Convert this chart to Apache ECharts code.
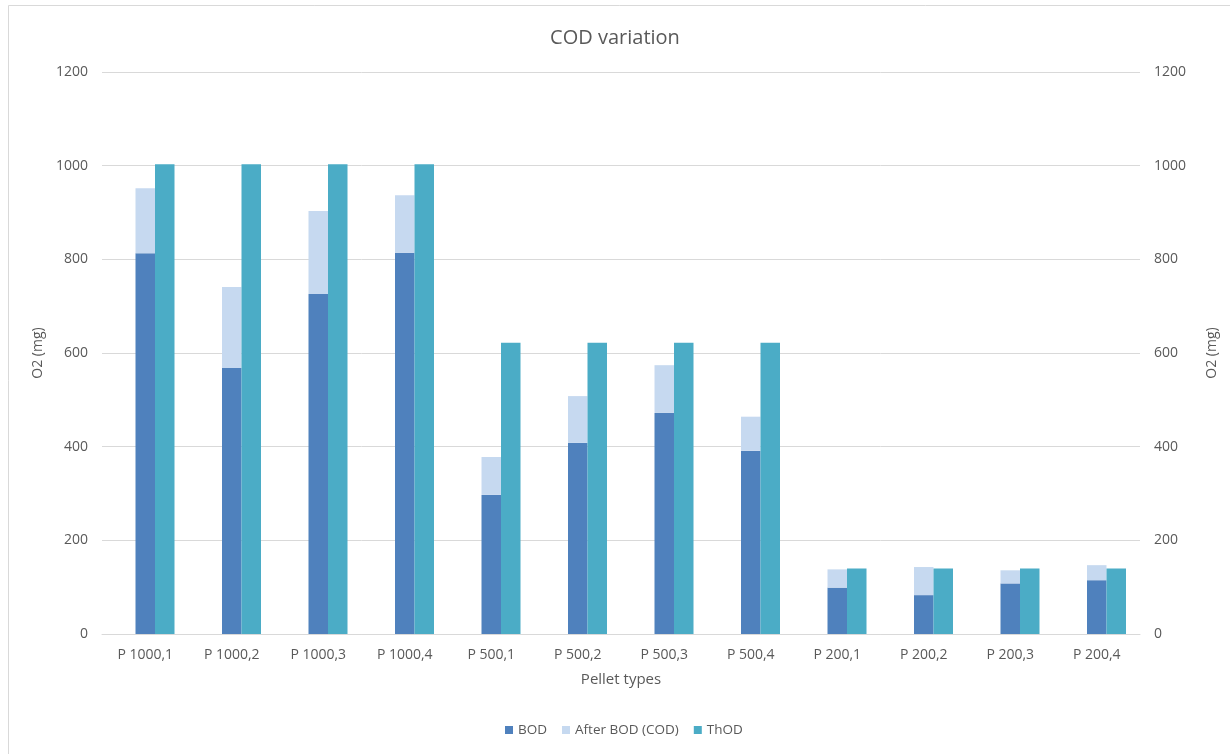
<!DOCTYPE html>
<html>
<head>
<meta charset="utf-8">
<title>COD variation</title>
<script src="https://cdn.jsdelivr.net/npm/echarts@6/dist/echarts.min.js"></script>
<style>
  html, body { margin: 0; padding: 0; background: #ffffff; }
  #chart { width: 1230px; height: 754px; }
</style>
</head>
<body>
<div id="chart"></div>
<script>
// Pellet samples along the category axis
const pelletTypes = ['P 1000,1', 'P 1000,2', 'P 1000,3', 'P 1000,4',
                     'P 500,1', 'P 500,2', 'P 500,3', 'P 500,4',
                     'P 200,1', 'P 200,2', 'P 200,3', 'P 200,4'];

// Oxygen demand in mg O2
const bodValues      = [813, 568, 726, 814, 297, 408, 472, 391, 99, 83, 108, 115];
const afterBodValues = [139, 173, 177, 123, 81, 100, 102, 73, 39, 60, 28, 32];
const thodValues     = [1003, 1003, 1003, 1003, 622, 622, 622, 622, 140, 140, 140, 140];

// Value axis ticks (same on both sides)
const axisMin = 0;
const axisMax = 1200;
const axisStep = 200;

const TEXT = '#595959';
const GRID_LINE = '#d9d9d9';
const FONT = '"Open Sans", "Noto Sans", sans-serif';

const chart = echarts.init(document.getElementById('chart'), null, { renderer: 'canvas' });

const valueAxis = (position, offsetGap) => ({
  type: 'value',
  position: position,
  min: axisMin,
  max: axisMax,
  interval: axisStep,
  name: 'O2 (mg)',
  nameLocation: 'middle',
  nameGap: offsetGap,
  nameTextStyle: { color: TEXT, fontFamily: FONT, fontSize: 14 },
  axisLine: { show: false },
  axisTick: { show: false },
  axisLabel: {
    color: TEXT, fontFamily: FONT, fontSize: 14, margin: 14,
    formatter: (v) => String(v)
  },
  splitLine: { show: position === 'left', lineStyle: { color: GRID_LINE, width: 1 } }
});

const option = {
  backgroundColor: '#ffffff',
  animation: false,
  title: {
    text: 'COD variation',
    left: 'center',
    top: 23,
    textStyle: { color: TEXT, fontFamily: FONT, fontSize: 20, fontWeight: 'normal' }
  },
  legend: {
    data: ['BOD', 'After BOD (COD)', 'ThOD'],
    left: 500,
    top: 718,
    icon: 'rect',
    itemWidth: 8,
    itemHeight: 8,
    itemGap: 15,
    textStyle: { color: TEXT, fontFamily: FONT, fontSize: 13.5 }
  },
  grid: { left: 102, right: 90, top: 72, bottom: 120, containLabel: false },
  xAxis: [
    {
      type: 'category',
      data: pelletTypes,
      name: 'Pellet types',
      nameLocation: 'middle',
      nameGap: 38,
      nameTextStyle: { color: TEXT, fontFamily: FONT, fontSize: 15 },
      axisLine: { show: true, lineStyle: { color: GRID_LINE, width: 1 } },
      axisTick: { show: false },
      axisLabel: { color: TEXT, fontFamily: FONT, fontSize: 14, margin: 14, interval: 0 }
    },
    {
      // companion axis so ThOD sits beside the BOD stack
      type: 'category',
      data: pelletTypes,
      show: false
    }
  ],
  yAxis: [valueAxis('left', 54), valueAxis('right', 65)],
  graphic: [
    {
      type: 'rect',
      shape: { x: 8.5, y: 5.5, width: 1400, height: 900 },
      style: { fill: null, stroke: GRID_LINE, lineWidth: 1 },
      silent: true,
      z: -1
    }
  ],
  series: [
    {
      name: 'BOD',
      type: 'bar',
      stack: 'cod',
      xAxisIndex: 0,
      yAxisIndex: 0,
      barWidth: 19.5,
      barGap: '0%',
      itemStyle: { color: '#4f81bd' },
      data: bodValues
    },
    {
      name: 'After BOD (COD)',
      type: 'bar',
      stack: 'cod',
      xAxisIndex: 0,
      yAxisIndex: 0,
      barWidth: 19.5,
      barGap: '0%',
      itemStyle: { color: '#c6d9f0' },
      data: afterBodValues
    },
    {
      name: 'slot-a',
      type: 'bar',
      xAxisIndex: 1,
      yAxisIndex: 1,
      barWidth: 19.5,
      barGap: '0%',
      data: []
    },
    {
      name: 'slot-b',
      type: 'bar',
      xAxisIndex: 1,
      yAxisIndex: 1,
      barWidth: 19.5,
      barGap: '0%',
      data: []
    },
    {
      name: 'ThOD',
      type: 'bar',
      xAxisIndex: 1,
      yAxisIndex: 1,
      barWidth: 19.5,
      barGap: '0%',
      itemStyle: { color: '#4bacc6' },
      data: thodValues
    }
  ]
};

chart.setOption(option);
</script>
</body>
</html>
